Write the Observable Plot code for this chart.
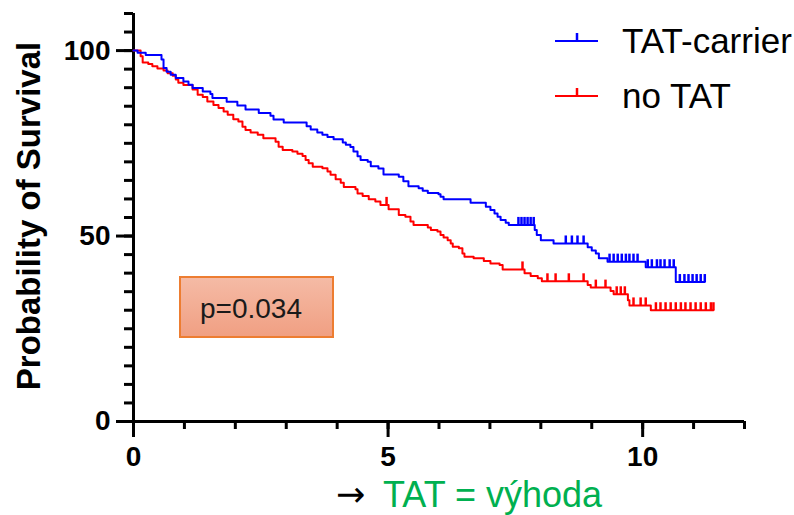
<!DOCTYPE html>
<html>
<head>
<meta charset="utf-8">
<script src="https://cdn.jsdelivr.net/npm/d3@7"></script>
<script src="https://cdn.jsdelivr.net/npm/@observablehq/plot@0.6"></script>
<style>
  html, body { margin: 0; padding: 0; background: #fff; }
  #chart { position: relative; width: 794px; height: 515px; overflow: hidden; }
  #chart svg { display: block; }
</style>
</head>
<body>
<div id="chart"></div>
<script>
// Kaplan–Meier survival: TAT carriers vs. no TAT (time in years, survival in %)
const groups = ["TAT-carrier", "no TAT"];
const groupColors = ["#0000ff", "#ff0000"];

// TAT-carrier: event times and survival after each event
const carrierTimes = [0.08, 0.24, 0.55, 0.59, 0.65, 0.73, 0.83, 0.98, 1.08, 1.16, 1.36, 1.51, 1.55, 1.83, 2.04, 2.20, 2.46, 2.69, 2.75, 2.95,
  3.40, 3.48, 3.61, 3.71, 3.81, 3.93, 4.11, 4.17, 4.26, 4.32, 4.40, 4.46, 4.60, 4.66, 4.81, 4.91, 5.21, 5.30, 5.40, 5.60,
  5.68, 5.78, 5.99, 6.03, 6.09, 6.62, 6.92, 7.01, 7.09, 7.15, 7.21, 7.31, 7.37, 7.88, 7.92, 8.00, 8.25, 8.92, 9.00, 9.08,
  9.14, 9.31, 10.06, 10.65];
const carrierSurvival = [99.4, 98.8, 97.6, 95.3, 94.3, 93.5, 92.6, 91.7, 90.8, 89.9, 89.0, 88.3, 87.2, 86.2, 85.2, 84.1, 83.2, 82.4, 81.4, 80.6,
  79.6, 78.7, 77.9, 77.3, 76.7, 76.1, 75.2, 74.6, 74.0, 72.8, 71.5, 70.5, 70.0, 68.8, 68.2, 66.6, 66.0, 64.8, 63.4, 62.9,
  62.2, 61.6, 61.3, 60.6, 59.9, 59.0, 57.9, 57.0, 56.1, 55.2, 54.3, 53.6, 53.0, 51.6, 50.3, 48.9, 48.0, 47.0, 46.1, 45.3,
  44.0, 43.1, 41.6, 37.6];
// TAT-carrier: censoring times
const carrierCensored = [7.56, 7.62, 7.68, 7.74, 7.80, 7.86, 8.49, 8.61, 8.72, 8.84, 9.35, 9.43, 9.51, 9.59, 9.67, 9.74, 9.82, 9.90,
  10.10, 10.18, 10.28, 10.35, 10.43, 10.53, 10.61, 10.73, 10.82, 10.90, 10.98, 11.06, 11.14, 11.22];

// no TAT: event times and survival after each event
const noTatTimes = [0.14, 0.18, 0.29, 0.37, 0.47, 0.59, 0.67, 0.77, 0.83, 0.88, 0.98, 1.16, 1.26, 1.36, 1.45, 1.57, 1.67, 1.77, 1.85, 1.96,
  2.06, 2.14, 2.20, 2.30, 2.44, 2.55, 2.79, 2.85, 2.93, 3.12, 3.22, 3.32, 3.38, 3.44, 3.52, 3.71, 3.81, 3.87, 3.97, 4.07,
  4.13, 4.36, 4.40, 4.50, 4.62, 4.75, 4.85, 5.01, 5.21, 5.34, 5.44, 5.50, 5.78, 5.84, 5.97, 6.03, 6.09, 6.17, 6.23, 6.27,
  6.39, 6.46, 6.50, 6.68, 6.88, 7.01, 7.19, 7.25, 7.68, 7.80, 7.94, 8.02, 8.92, 8.98, 9.37, 9.43, 9.71, 9.74, 10.16];
const noTatSurvival = [98.5, 96.8, 96.4, 95.8, 95.2, 94.6, 93.9, 93.2, 92.2, 91.3, 90.7, 89.5, 88.1, 87.5, 86.3, 85.3, 84.5, 83.6, 82.7, 81.5,
  80.9, 79.5, 78.6, 77.9, 77.3, 76.4, 75.4, 74.1, 73.2, 72.8, 72.2, 71.6, 70.5, 69.6, 68.7, 68.3, 67.4, 66.5, 65.3, 64.4,
  63.2, 62.6, 61.5, 60.8, 59.9, 59.3, 58.4, 57.2, 55.7, 55.2, 53.9, 53.0, 52.3, 51.6, 51.2, 50.3, 49.6, 48.9, 48.0, 47.1,
  46.7, 45.3, 44.4, 44.0, 43.3, 42.6, 42.2, 41.0, 40.0, 39.2, 38.6, 37.8, 36.8, 36.1, 35.2, 34.3, 32.7, 31.3, 30.0];
// no TAT: censoring times
const noTatCensored = [4.97, 7.64, 8.13, 8.29, 8.55, 8.84, 9.08, 9.27, 9.49, 9.57, 9.65, 9.82, 9.96, 10.06, 10.26, 10.35, 10.45,
  10.55, 10.65, 10.75, 10.84, 10.94, 11.04, 11.14, 11.24, 11.34, 11.39];

// axis ticks and annotation text
const xMajorTicks = [0, 5, 10];
const xMinorTicks = d3.range(0, 13, 1);
const yMajorTicks = [0, 50, 100];
const yMinorTicks = d3.range(0, 111, 5);
const yLabel = "Probability of Survival";
const pValueText = "p=0.034";
const noteArrow = "\u2192";
const noteText = "TAT = výhoda";

// survival value of a group at time t (step function)
function survivalAt(times, surv, t) {
  let s = 100;
  for (let i = 0; i < times.length; i++) if (times[i] <= t) s = surv[i];
  return s;
}

// step-curve points: start at 100 %, one point per event, end at last follow-up
function curvePoints(group, times, surv, censored) {
  const pts = [{group, t: 0, s: 100}];
  times.forEach((t, i) => pts.push({group, t, s: surv[i]}));
  pts.push({group, t: d3.max(censored), s: surv[surv.length - 1]});
  return pts;
}
function censorPoints(group, times, surv, censored) {
  return censored.map(t => ({group, t, s: survivalAt(times, surv, t)}));
}

const curves = [
  ...curvePoints("no TAT", noTatTimes, noTatSurvival, noTatCensored),
  ...curvePoints("TAT-carrier", carrierTimes, carrierSurvival, carrierCensored)
];
const censors = [
  ...censorPoints("no TAT", noTatTimes, noTatSurvival, noTatCensored),
  ...censorPoints("TAT-carrier", carrierTimes, carrierSurvival, carrierCensored)
];

// a short vertical tick pointing upward, for censored observations
const censorTick = {
  draw(context, size) {
    const r = Math.sqrt(size / Math.PI);
    context.moveTo(0, 0);
    context.lineTo(0, -2 * r);
  }
};

const font = "'Liberation Sans', Arial, Helvetica, sans-serif";

const plot = Plot.plot({
  width: 794,
  height: 515,
  marginLeft: 133,
  marginRight: 50,
  marginTop: 13,
  marginBottom: 94,
  style: {fontFamily: font, background: "#fff", color: "#000", overflow: "visible"},
  x: {domain: [0, 12]},
  y: {domain: [0, 110]},
  color: {domain: groups, range: groupColors},
  marks: [
    Plot.axisX({ticks: xMinorTicks, tickSize: 8, tickFormat: () => "", strokeWidth: 3, label: null}),
    Plot.axisX({ticks: xMajorTicks, tickSize: 16, tickPadding: 9, strokeWidth: 3, fontSize: 28, fontWeight: "bold", label: null}),
    Plot.axisY({ticks: yMinorTicks, tickSize: 9, tickFormat: () => "", strokeWidth: 3, label: null}),
    Plot.axisY({ticks: yMajorTicks, tickSize: 17, tickPadding: 6, strokeWidth: 3, fontSize: 28, fontWeight: "bold", label: null}),
    Plot.ruleX([0], {y1: 0, y2: 110, strokeWidth: 3}),
    Plot.ruleY([0], {x1: 0, x2: 12, strokeWidth: 3}),
    Plot.line(curves, {x: "t", y: "s", z: "group", stroke: "group", curve: "step-after", strokeWidth: 2}),
    Plot.dot(censors, {x: "t", y: "s", symbol: censorTick, r: 4, stroke: "group", fill: "none", strokeWidth: 2.5})
  ]
});

document.getElementById("chart").appendChild(plot);
const svg = d3.select(plot);

// y-axis title
svg.append("text")
  .attr("transform", "translate(40,216) rotate(-90)")
  .attr("text-anchor", "middle")
  .attr("font-family", font)
  .attr("font-weight", "bold")
  .attr("font-size", 33)
  .attr("fill", "#000")
  .text(yLabel);

// legend
const legend = svg.append("g").attr("font-family", font).attr("font-size", 35).attr("text-anchor", "start");
groups.forEach((g, i) => {
  const y = 41 + i * 55;
  legend.append("line").attr("x1", 555).attr("x2", 598).attr("y1", y).attr("y2", y)
    .attr("stroke", groupColors[i]).attr("stroke-width", 2);
  legend.append("line").attr("x1", 577).attr("x2", 577).attr("y1", y).attr("y2", y - 8)
    .attr("stroke", groupColors[i]).attr("stroke-width", 2.5);
  legend.append("text").attr("x", 622).attr("y", y + 12).attr("fill", "#000").text(g);
});

// p-value box
const defs = svg.append("defs");
const grad = defs.append("linearGradient").attr("id", "pbox-fill").attr("x1", 0).attr("x2", 0).attr("y1", 0).attr("y2", 1);
grad.append("stop").attr("offset", "0%").attr("stop-color", "#f5bba6");
grad.append("stop").attr("offset", "100%").attr("stop-color", "#f09f82");
svg.append("rect").attr("x", 180).attr("y", 277).attr("width", 153).attr("height", 60)
  .attr("fill", "url(#pbox-fill)").attr("stroke", "#ed7d31").attr("stroke-width", 2);
svg.append("text").attr("x", 200).attr("y", 318).attr("text-anchor", "start")
  .attr("font-family", font).attr("font-size", 28).attr("fill", "#1a1a1a")
  .text(pValueText);

// note below the x axis
svg.append("text").attr("x", 336).attr("y", 506).attr("text-anchor", "start")
  .attr("font-family", "'DejaVu Sans', sans-serif").attr("font-size", 35).attr("fill", "#000")
  .text(noteArrow);
svg.append("text").attr("x", 383).attr("y", 507).attr("text-anchor", "start")
  .attr("font-family", font).attr("font-size", 36).attr("fill", "#00b050")
  .text(noteText);
</script>
</body>
</html>
